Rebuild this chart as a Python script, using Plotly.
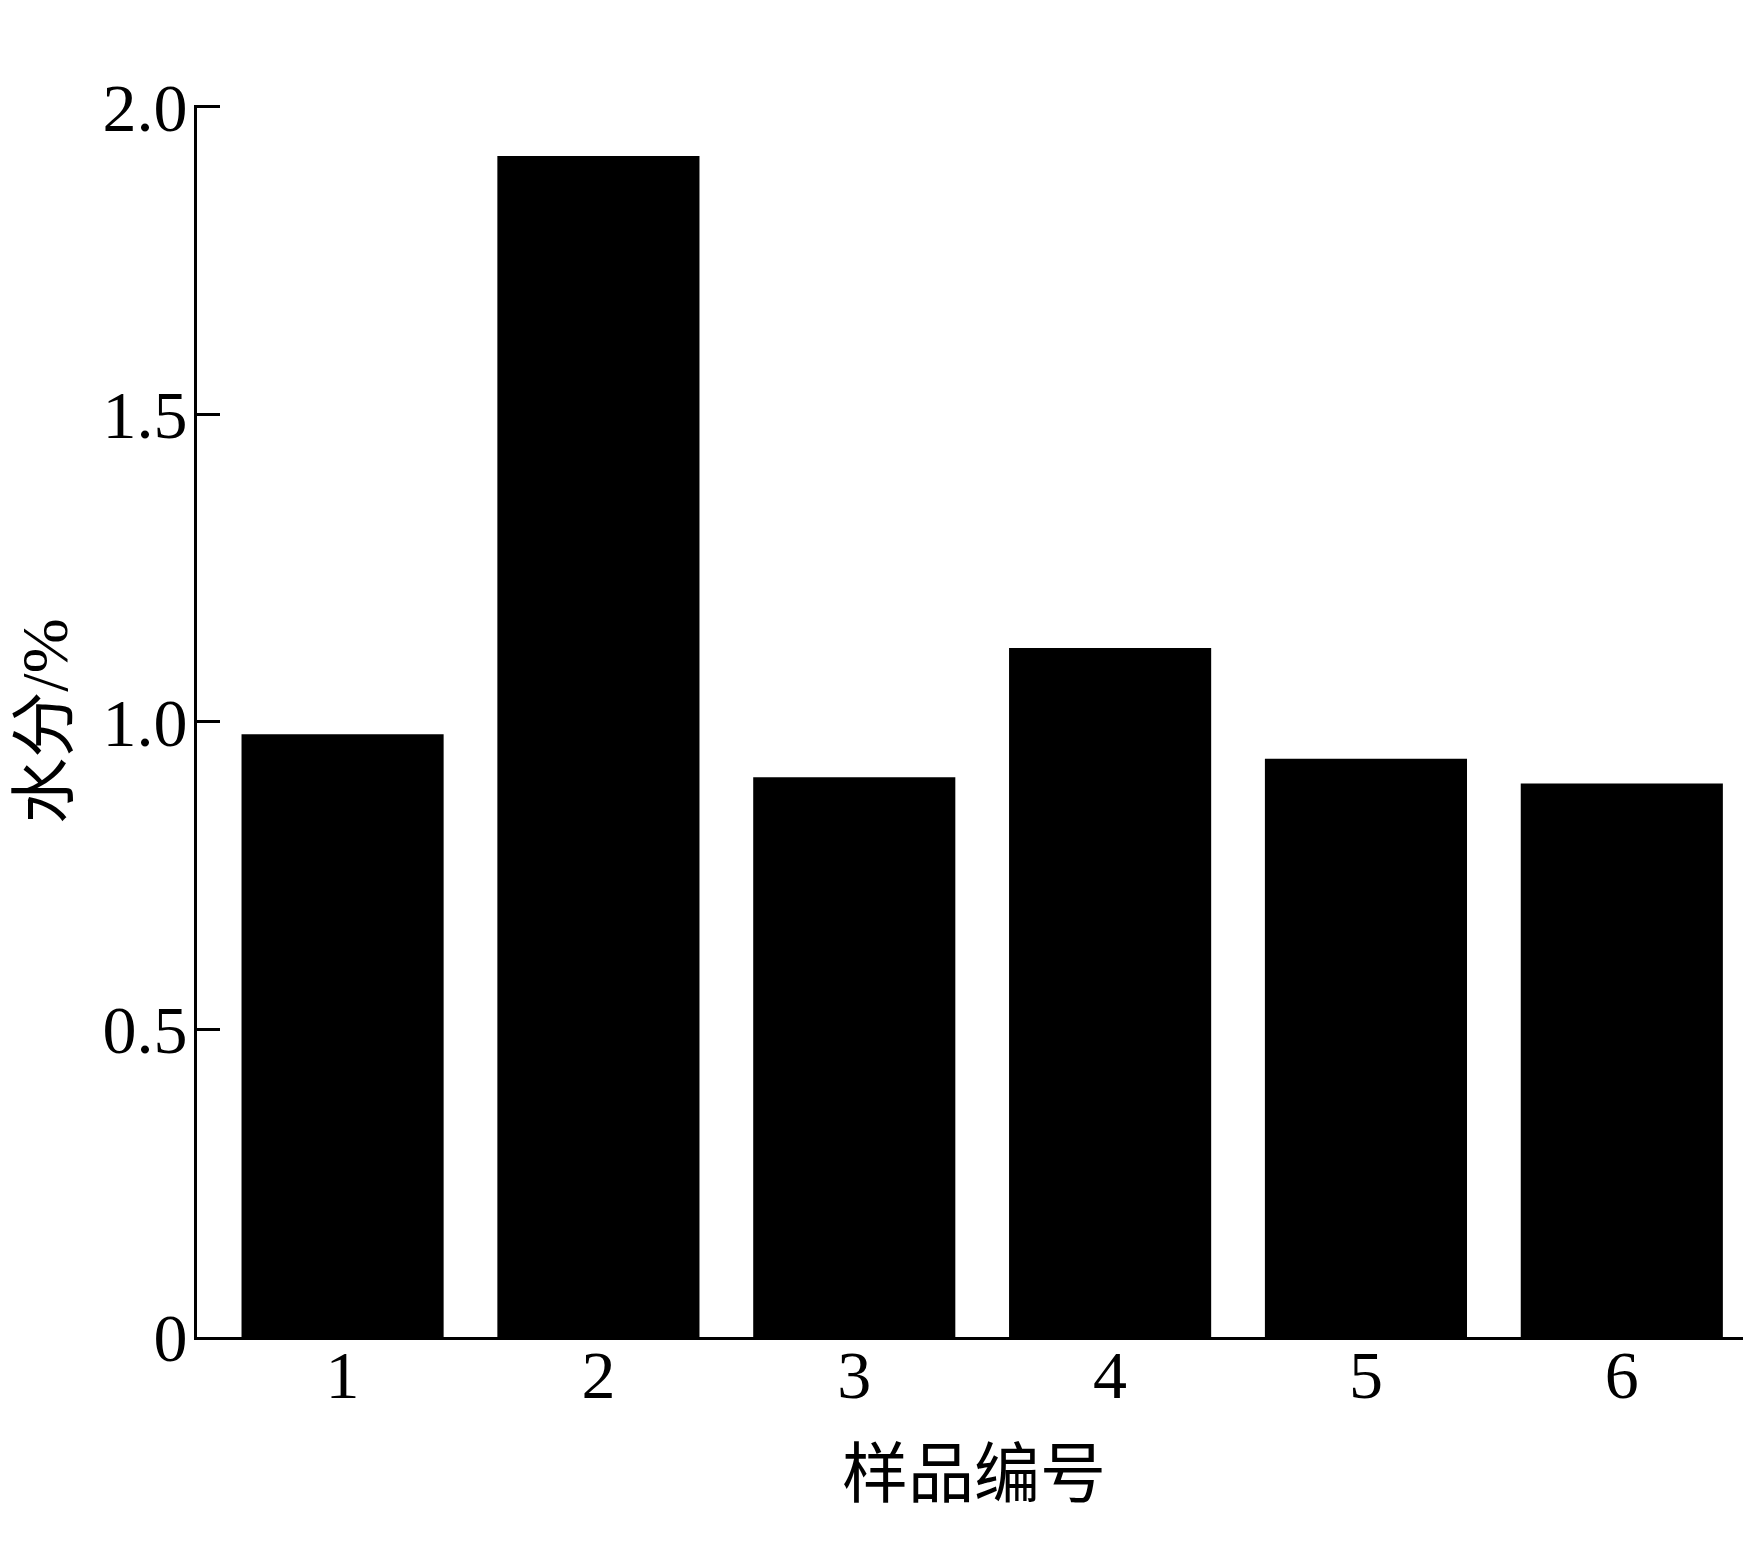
import plotly.graph_objects as go

samples = [1, 2, 3, 4, 5, 6]
moisture = [0.98, 1.92, 0.91, 1.12, 0.94, 0.90]
y_tickvals = [0, 0.5, 1.0, 1.5, 2.0]
y_ticktext = ["0", "0.5", "1.0", "1.5", "2.0"]
x_title = "样品编号"
y_title = "水分/%"

FONT = "Liberation Serif, Times New Roman, Noto Sans CJK SC, serif"

fig = go.Figure(
    go.Bar(
        x=samples,
        y=moisture,
        marker=dict(color="black", line=dict(width=0)),
        width=0.79,
    )
)

fig.update_layout(
    width=1743,
    height=1558,
    margin=dict(l=189, r=0, t=97, b=229),
    plot_bgcolor="white",
    paper_bgcolor="white",
    showlegend=False,
    font=dict(family=FONT, color="black"),
)

fig.update_xaxes(
    range=[0.431, 6.505],
    tickvals=samples,
    ticktext=[str(s) for s in samples],
    tickfont=dict(family=FONT, size=68, color="black"),
    ticklabelstandoff=-24,
    showline=True,
    linecolor="black",
    linewidth=3,
    ticks="",
    showgrid=False,
    zeroline=False,
    title=dict(text=x_title, font=dict(family="Noto Sans CJK SC", size=66, color="black"), standoff=40),
)

fig.update_yaxes(
    range=[0, 2.003],
    tickvals=y_tickvals,
    ticktext=y_ticktext,
    tickfont=dict(family=FONT, size=68, color="black"),
    ticklabelstandoff=-7,
    showline=True,
    linecolor="black",
    linewidth=3,
    ticks="inside",
    ticklen=23,
    tickwidth=3,
    tickcolor="black",
    showgrid=False,
    zeroline=False,
    title=dict(text=y_title, font=dict(family=FONT, size=66, color="black"), standoff=42),
)

fig.write_html("out.html")
